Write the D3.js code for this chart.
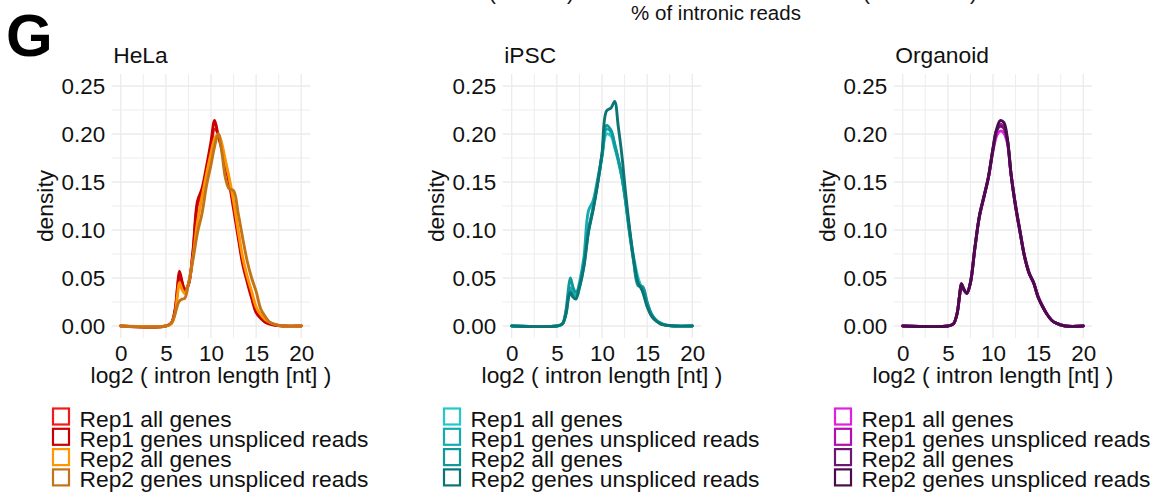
<!DOCTYPE html>
<html>
<head>
<meta charset="utf-8">
<script src="https://cdn.jsdelivr.net/npm/d3@7"></script>
<style>
  html, body { margin: 0; padding: 0; background: #ffffff; }
  svg { display: block; font-family: "Liberation Sans", Arial, Helvetica, sans-serif; }
</style>
</head>
<body>
<svg id="chart" width="1157" height="496"></svg>
<script>
// Series labels shared by the three panels
const seriesNames = [
  "Rep1 all genes",
  "Rep1 genes unspliced reads",
  "Rep2 all genes",
  "Rep2 genes unspliced reads"
];

// Panel titles
const cellTypes = ["HeLa", "iPSC", "Organoid"];

// Axis ticks
const xTicks = [0, 5, 10, 15, 20];
const xMinor = [2.5, 7.5, 12.5, 17.5];
const yTicks = [0, 0.05, 0.10, 0.15, 0.20, 0.25];
const yMinor = [0.025, 0.075, 0.125, 0.175, 0.225];

// log2 intron length grid for each panel
const helaX = [0, 5, 5.6, 6.0, 6.3, 6.5, 6.8, 7.1, 7.5, 8.0, 8.5, 9.0, 9.5, 10.0, 10.4, 10.8, 11.2, 11.6, 12.0, 12.5, 13.0, 13.5, 14.0, 14.5, 15.0, 15.5, 16.0, 16.5, 17.0, 18.0, 20.0];
const ipscX = [0, 5, 5.6, 6.0, 6.3, 6.5, 6.8, 7.1, 7.5, 8.0, 8.5, 9.0, 9.5, 10.0, 10.5, 11.0, 11.4, 11.8, 12.2, 12.6, 13.0, 13.5, 14.0, 14.5, 15.0, 15.5, 16.0, 16.5, 17.0, 18.0, 20.0];
const organoidX = [0, 5, 5.6, 6.0, 6.3, 6.5, 6.8, 7.1, 7.5, 8.0, 8.5, 9.0, 9.5, 10.0, 10.4, 10.8, 11.2, 11.6, 12.0, 12.5, 13.0, 13.5, 14.0, 14.5, 15.0, 15.5, 16.0, 16.5, 17.0, 18.0, 20.0];

// HeLa densities
const helaRep1All       = [0, 0, 0.003, 0.015, 0.040, 0.054, 0.045, 0.038, 0.043, 0.076, 0.126, 0.140, 0.162, 0.186, 0.205, 0.200, 0.186, 0.170, 0.152, 0.126, 0.097, 0.068, 0.050, 0.033, 0.017, 0.010, 0.005, 0.003, 0.001, 0, 0];
const helaRep1Unspliced = [0, 0, 0.003, 0.016, 0.042, 0.057, 0.046, 0.037, 0.043, 0.078, 0.130, 0.143, 0.166, 0.192, 0.214, 0.198, 0.184, 0.167, 0.150, 0.122, 0.093, 0.065, 0.046, 0.029, 0.014, 0.008, 0.004, 0.002, 0.001, 0, 0];
const helaRep2All       = [0, 0, 0.002, 0.012, 0.033, 0.045, 0.038, 0.034, 0.044, 0.071, 0.108, 0.134, 0.158, 0.180, 0.195, 0.200, 0.190, 0.172, 0.155, 0.130, 0.100, 0.072, 0.052, 0.036, 0.020, 0.012, 0.007, 0.004, 0.002, 0, 0];
const helaRep2Unspliced = [0, 0, 0.003, 0.012, 0.022, 0.026, 0.028, 0.029, 0.044, 0.069, 0.097, 0.117, 0.146, 0.168, 0.187, 0.200, 0.181, 0.154, 0.143, 0.141, 0.118, 0.092, 0.068, 0.050, 0.036, 0.018, 0.010, 0.004, 0.002, 0, 0];

// iPSC densities
const ipscRep1All       = [0, 0, 0.002, 0.012, 0.030, 0.036, 0.031, 0.029, 0.040, 0.063, 0.098, 0.122, 0.148, 0.176, 0.200, 0.198, 0.186, 0.172, 0.155, 0.132, 0.103, 0.072, 0.050, 0.036, 0.022, 0.012, 0.006, 0.003, 0.001, 0, 0];
const ipscRep1Unspliced = [0, 0, 0.002, 0.014, 0.034, 0.040, 0.034, 0.031, 0.045, 0.072, 0.120, 0.130, 0.152, 0.178, 0.205, 0.202, 0.188, 0.173, 0.155, 0.130, 0.100, 0.068, 0.044, 0.040, 0.024, 0.012, 0.006, 0.003, 0.001, 0, 0];
const ipscRep2All       = [0, 0, 0.002, 0.016, 0.040, 0.050, 0.040, 0.035, 0.042, 0.066, 0.100, 0.122, 0.148, 0.178, 0.209, 0.204, 0.190, 0.174, 0.156, 0.131, 0.102, 0.068, 0.042, 0.041, 0.025, 0.012, 0.006, 0.003, 0.001, 0, 0];
const ipscRep2Unspliced = [0, 0, 0.002, 0.012, 0.030, 0.035, 0.030, 0.028, 0.040, 0.062, 0.098, 0.120, 0.147, 0.180, 0.224, 0.227, 0.234, 0.208, 0.178, 0.140, 0.106, 0.070, 0.045, 0.036, 0.020, 0.010, 0.005, 0.002, 0.001, 0, 0];

// Organoid densities
const organoidRep1All       = [0, 0, 0.002, 0.012, 0.031, 0.042, 0.037, 0.034, 0.046, 0.082, 0.114, 0.134, 0.155, 0.182, 0.198, 0.203, 0.201, 0.190, 0.158, 0.126, 0.099, 0.073, 0.056, 0.045, 0.031, 0.021, 0.012, 0.006, 0.003, 0, 0];
const organoidRep1Unspliced = [0, 0, 0.002, 0.012, 0.032, 0.044, 0.038, 0.034, 0.045, 0.081, 0.115, 0.135, 0.155, 0.184, 0.202, 0.210, 0.208, 0.193, 0.158, 0.124, 0.097, 0.072, 0.055, 0.045, 0.030, 0.020, 0.012, 0.006, 0.003, 0, 0];
const organoidRep2All       = [0, 0, 0.002, 0.012, 0.032, 0.043, 0.037, 0.034, 0.045, 0.082, 0.114, 0.135, 0.156, 0.185, 0.204, 0.208, 0.206, 0.193, 0.158, 0.125, 0.098, 0.072, 0.055, 0.045, 0.030, 0.020, 0.012, 0.006, 0.003, 0, 0];
const organoidRep2Unspliced = [0, 0, 0.002, 0.012, 0.032, 0.044, 0.038, 0.034, 0.045, 0.082, 0.115, 0.135, 0.155, 0.185, 0.205, 0.214, 0.212, 0.195, 0.158, 0.125, 0.098, 0.072, 0.055, 0.045, 0.030, 0.020, 0.012, 0.006, 0.003, 0, 0];

// Colour ramps for each cell type
const helaColors = ["#f01c1c", "#c80000", "#ff9500", "#c47418"];
const ipscColors = ["#22c8cc", "#15abb0", "#11989b", "#0b7474"];
const organoidColors = ["#e020e0", "#b010b0", "#6c1872", "#4a0c4a"];

const panels = [
  { title: cellTypes[0], x: helaX, series: [helaRep1All, helaRep1Unspliced, helaRep2All, helaRep2Unspliced], colors: helaColors },
  { title: cellTypes[1], x: ipscX, series: [ipscRep1All, ipscRep1Unspliced, ipscRep2All, ipscRep2Unspliced], colors: ipscColors },
  { title: cellTypes[2], x: organoidX, series: [organoidRep1All, organoidRep1Unspliced, organoidRep2All, organoidRep2Unspliced], colors: organoidColors }
];

const svg = d3.select("#chart");
const FONT = 22.8;
const TICK_FONT = 22.4;
const ink = "#111111";
const gridColor = "#ebebeb";

// Figure letter
svg.append("text")
  .attr("x", 6).attr("y", 56)
  .attr("font-size", 60).attr("font-weight", "bold")
  .attr("fill", "#000")
  .text("G");

// Caption line shared with the row above
svg.append("text")
  .attr("x", 716).attr("y", 20)
  .attr("text-anchor", "middle")
  .attr("font-size", 20.5).attr("fill", ink)
  .text("% of intronic reads");
[489, 567, 863, 970].forEach((px, i) => {
  svg.append("text")
    .attr("x", px).attr("y", 0)
    .attr("font-size", 20.5).attr("fill", ink)
    .text(i % 2 === 0 ? "(" : ")");
});

const panelStep = 391;
const plotTop = 74, plotBottom = 338;
const plotLeft0 = 111.7, plotWidth = 198.6;

panels.forEach((p, i) => {
  const left = plotLeft0 + panelStep * i;
  const right = left + plotWidth;
  const g = svg.append("g");

  const x = d3.scaleLinear().domain([-1, 21]).range([left, right]);
  const y = d3.scaleLinear().domain([-0.0125, 0.2625]).range([plotBottom, plotTop]);

  // grid
  const grid = g.append("g");
  grid.selectAll("line.vmin").data(xMinor).join("line")
    .attr("x1", d => x(d)).attr("x2", d => x(d))
    .attr("y1", plotTop).attr("y2", plotBottom)
    .attr("stroke", gridColor).attr("stroke-width", 0.9);
  grid.selectAll("line.hmin").data(yMinor).join("line")
    .attr("y1", d => y(d)).attr("y2", d => y(d))
    .attr("x1", left).attr("x2", right)
    .attr("stroke", gridColor).attr("stroke-width", 0.9);
  grid.selectAll("line.vmaj").data(xTicks).join("line")
    .attr("x1", d => x(d)).attr("x2", d => x(d))
    .attr("y1", plotTop).attr("y2", plotBottom)
    .attr("stroke", gridColor).attr("stroke-width", 1.3);
  grid.selectAll("line.hmaj").data(yTicks).join("line")
    .attr("y1", d => y(d)).attr("y2", d => y(d))
    .attr("x1", left).attr("x2", right)
    .attr("stroke", gridColor).attr("stroke-width", 1.3);

  // axes
  const xAxis = g.append("g")
    .attr("transform", `translate(0,${plotBottom})`)
    .call(d3.axisBottom(x).tickValues(xTicks).tickSize(0).tickPadding(7).tickFormat(d3.format("d")));
  const yAxis = g.append("g")
    .attr("transform", `translate(${left},0)`)
    .call(d3.axisLeft(y).tickValues(yTicks).tickSize(0).tickPadding(6.5).tickFormat(d3.format(".2f")));
  [xAxis, yAxis].forEach(a => {
    a.select(".domain").remove();
    a.selectAll("text")
      .attr("font-size", TICK_FONT)
      .attr("font-family", "Liberation Sans, Arial, Helvetica, sans-serif")
      .attr("fill", ink);
  });

  // density curves
  const line = d3.line()
    .x(d => x(d[0]))
    .y(d => y(d[1]))
    .curve(d3.curveCatmullRom.alpha(0.5));
  p.series.forEach((vals, k) => {
    const pts = p.x.map((xv, j) => [xv, vals[j]]);
    g.append("path")
      .datum(pts)
      .attr("d", line)
      .attr("fill", "none")
      .attr("stroke", p.colors[k])
      .attr("stroke-width", 2.9)
      .attr("stroke-linejoin", "round")
      .attr("stroke-linecap", "round");
  });

  // titles
  g.append("text")
    .attr("x", left + 1.5).attr("y", 63)
    .attr("font-size", FONT).attr("fill", ink)
    .text(p.title);
  g.append("text")
    .attr("transform", `translate(${53 + panelStep * i},${(plotTop + plotBottom) / 2}) rotate(-90)`)
    .attr("text-anchor", "middle")
    .attr("font-size", FONT).attr("fill", ink)
    .text("density");
  g.append("text")
    .attr("x", (left + right) / 2).attr("y", 383)
    .attr("text-anchor", "middle")
    .attr("font-size", FONT).attr("fill", ink)
    .text("log2 ( intron length [nt] )");

  // legend
  const lg = g.append("g");
  seriesNames.forEach((name, k) => {
    const top = 408.5 + 20.3 * k;
    lg.append("rect")
      .attr("x", 53 + panelStep * i).attr("y", top)
      .attr("width", 16).attr("height", 16)
      .attr("fill", "#ffffff")
      .attr("stroke", p.colors[k]).attr("stroke-width", 2.2);
    lg.append("text")
      .attr("x", 79.5 + panelStep * i).attr("y", top + 18)
      .attr("font-size", FONT).attr("fill", ink)
      .text(name);
  });
});
</script>
</body>
</html>
